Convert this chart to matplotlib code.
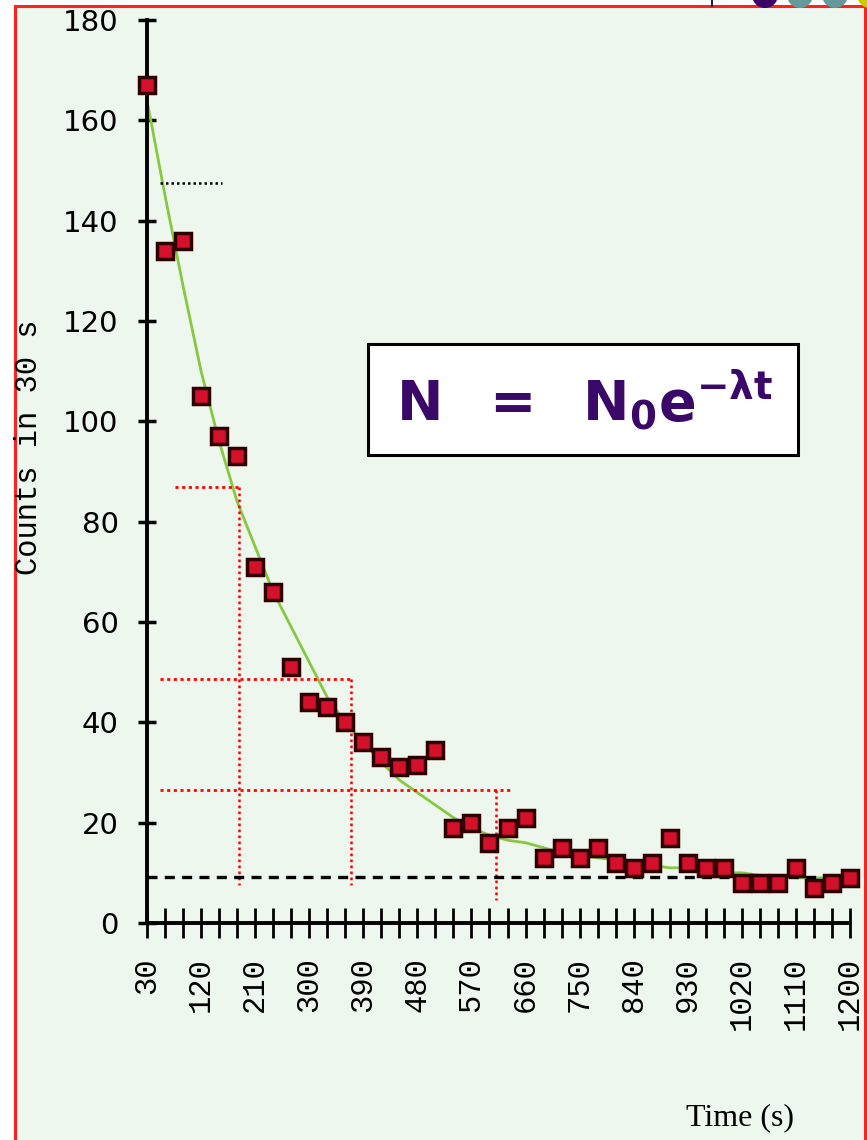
import numpy as np
import matplotlib
matplotlib.use("Agg")
import matplotlib.pyplot as plt
from matplotlib.patches import Rectangle, Ellipse

# decay data : counts in 30 s windows
times = [30, 60, 90, 120, 150, 180, 210, 240, 270, 300,
         330, 360, 390, 420, 450, 480, 510, 540, 570, 600,
         630, 660, 690, 720, 750, 780, 810, 840, 870, 900,
         930, 960, 990, 1020, 1050, 1080, 1110, 1140, 1170, 1200]
counts = [167, 134, 136, 105, 97, 93, 71, 66, 51, 44,
          43, 40, 36, 33, 31, 31.5, 34.5, 19, 20, 16,
          19, 21, 13, 15, 13, 15, 12, 11, 12, 17,
          12, 11, 11, 8, 8, 8, 11, 7, 8, 9]
# smooth curve drawn through the points
fit = [164, 145, 127, 110, 96, 84, 75, 66, 59, 52,
       45, 40, 36, 32, 28.5, 26, 23.5, 21, 19, 17.5,
       16.5, 16, 15, 14, 13.5, 13, 12.5, 12, 11.5, 11,
       11, 10.5, 10, 10, 9.5, 9.5, 9, 9, 9, 9]

label_ticks = [30, 120, 210, 300, 390, 480, 570, 660, 750, 840, 930, 1020, 1110, 1200]
y_ticks = [0, 20, 40, 60, 80, 100, 120, 140, 160, 180]

# half-life construction lines
half_levels = [87, 48.6, 26.5]
half_start = [77, 52, 52]
half_end = [185, 371, 634]
half_drop_t = [183, 369, 611]
half_drop_bottom = [7.5, 7.5, 4.6]
n0_half = 147.5
n0_half_span = [52, 155]
background = 9.2

W, H = 867, 1140
fig = plt.figure(figsize=(W / 100, H / 100), dpi=100)
fig.patch.set_facecolor("white")

# green panel with red frame
fig.add_artist(Rectangle((15 / W, -0.02), 850 / W, (H - 6) / H + 0.02,
                         transform=fig.transFigure, facecolor="#EEF7EE",
                         edgecolor="#FF2020", lw=2.2, zorder=0))
# bits of the slide poking in at the top
fig.add_artist(plt.Line2D([712 / W, 712 / W], [1 - 6 / H, 1], transform=fig.transFigure,
                          color="black", lw=1.2))
for cx, col in [(765, "#3A0068"), (800, "#669999"), (835, "#669999"), (870, "#CCCC00")]:
    fig.add_artist(Ellipse((cx / W, 1 + 5 / H), 26 / W, 26 / H, transform=fig.transFigure,
                           facecolor=col, edgecolor="none", zorder=1))

ax = fig.add_axes([147 / W, 1 - 923 / H, 703 / W, 903 / H])
ax.set_facecolor("none")

ax.plot(times, fit, color="#88C840", lw=2, zorder=2, clip_on=False)
ax.plot(times, counts, "s", ms=12, mfc="#D4102A", mec="#300000", mew=2.5, zorder=4,
        clip_on=False)

# dotted / dashed guides
ax.plot(n0_half_span, [n0_half, n0_half], color="black", lw=1.8, dashes=(1, 1.2), zorder=3)
for lvl, t0, t1, td, yb in zip(half_levels, half_start, half_end, half_drop_t, half_drop_bottom):
    ax.plot([t0, t1], [lvl, lvl], color="#FF0000", lw=2, dashes=(1.1, 1.3), zorder=3)
    ax.plot([td, td], [lvl, yb], color="#FF0000", lw=1.8, dashes=(1.1, 1.3), zorder=3)
ax.plot([times[0], times[-1]], [background, background], color="black", lw=2.4,
        dashes=(3, 2.2), zorder=3)

ax.set_xlim(30, 1200)
ax.set_ylim(0, 180)
for s in ["top", "right"]:
    ax.spines[s].set_visible(False)
ax.spines["left"].set_linewidth(2.8)
ax.spines["bottom"].set_linewidth(2.8)

ax.set_xticks(times)
ax.set_xticklabels([str(t) if t in label_ticks else "" for t in times],
                   rotation=90, va="top", ha="center",
                   family=["Liberation Mono", "DejaVu Sans Mono"], fontsize=22)
ax.tick_params(axis="x", direction="inout", length=21, width=2, pad=14)
ax.set_yticks(y_ticks)
ax.set_yticklabels([str(v) for v in y_ticks],
                   family=["Liberation Sans Narrow", "DejaVu Sans"], fontsize=21)
ax.tick_params(axis="y", direction="inout", length=13, width=2.5, pad=14)

fig.text(29 / W, 1 - 447 / H, "Counts in 30 s", rotation=90, ha="center", va="center",
         family=["Liberation Mono", "DejaVu Sans Mono"], fontsize=22)
fig.text(740 / W, 1 - 1118 / H, "Time (s)", ha="center", va="center",
         family=["Liberation Serif", "DejaVu Serif"], fontsize=23)

# formula box
fig.add_artist(Rectangle((368 / W, 1 - 455 / H), 430 / W, 111 / H, transform=fig.transFigure,
                         facecolor="white", edgecolor="black", lw=2.2, zorder=5))
plt.rcParams["mathtext.fontset"] = "dejavusans"
fig.text(585 / W, 1 - 400 / H, r"$\mathbf{N\ \ =\ \ N_0e^{-\lambda t}}$", ha="center",
         va="center", color="#3A0868", fontsize=40, zorder=6)

fig.savefig("out.png", dpi=100)
